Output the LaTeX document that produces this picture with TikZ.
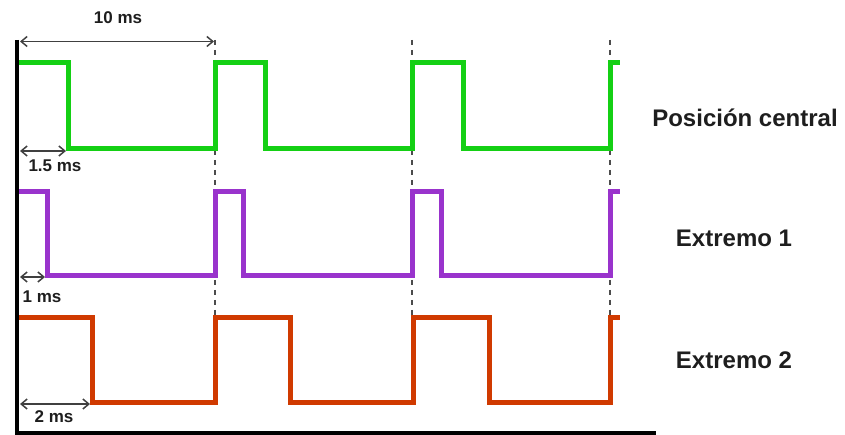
\documentclass[tikz,border=0pt]{standalone}
\usepackage{fontspec}
\setmainfont{Liberation Sans}
\usetikzlibrary{arrows.meta}
\definecolor{wgreen}{RGB}{20,208,20}
\definecolor{wpurple}{RGB}{153,51,204}
\definecolor{wred}{RGB}{208,58,0}
\definecolor{txt}{RGB}{30,30,30}
\tikzset{
  wave/.style={line width=5pt, line join=miter, line cap=butt},
  guide/.style={draw=black!70, line width=1.5pt, dash pattern=on 5pt off 5pt},
  dim/.style={draw=black!75, line width=1.5pt, {Straight Barb[length=6pt,width=10pt]}-{Straight Barb[length=6pt,width=10pt]}},
  small/.style={font=\fontsize{17}{17}\selectfont\bfseries, text=txt, inner sep=0pt},
  big/.style={font=\fontsize{24}{24}\selectfont\bfseries, text=txt, inner sep=0pt},
}
\begin{document}
\begin{tikzpicture}[x=1pt,y=-1pt]
\useasboundingbox (0,0) rectangle (845,435);
% guides
\foreach \gx in {215,412,610} \draw[guide] (\gx,40) -- (\gx,317);
% waveforms
\draw[wave, wgreen] (18,63) -- (68,63) -- (68,149) -- (215,149) -- (215,63) -- (265,63) -- (265,149) -- (412,149) -- (412,63) -- (463,63) -- (463,149) -- (610,149) -- (610,63) -- (620,63);
\draw[wave, wpurple] (18,192) -- (47,192) -- (47,276) -- (215,276) -- (215,192) -- (243,192) -- (243,276) -- (412,276) -- (412,192) -- (441,192) -- (441,276) -- (610,276) -- (610,192) -- (620,192);
\draw[wave, wred] (18,317) -- (92,317) -- (92,402) -- (215,402) -- (215,317) -- (290,317) -- (290,402) -- (413,402) -- (413,317) -- (489,317) -- (489,402) -- (610,402) -- (610,317) -- (620,317);
% axes
\coordinate (top) at (17,40);
\coordinate (origin) at (17,432.5);
\coordinate (xend) at (656,432.5);
\draw[line width=4pt, black, line join=miter] (top) -- (origin) -- (xend);
% dimension arrows
\coordinate (p0) at (20,41.5); \coordinate (p1) at (214,41.5);
\draw[dim] (p0) -- (p1);
\node[small] (l10) at (118,18) {10 ms};
\coordinate (a0) at (20,151); \coordinate (a1) at (66,151);
\draw[dim] (a0) -- (a1);
\node[small] (l15) at (55,166) {1.5 ms};
\coordinate (b0) at (20,277); \coordinate (b1) at (45,277);
\draw[dim] (b0) -- (b1);
\node[small] (l1) at (42,297) {1 ms};
\coordinate (c0) at (20,404); \coordinate (c1) at (90,404);
\draw[dim] (c0) -- (c1);
\node[small] (l2) at (54,417) {2 ms};
% labels
\node[big] (pc) at (745,118) {Posición central};
\node[big] (e1) at (734,238) {Extremo 1};
\node[big] (e2) at (734,360) {Extremo 2};
\end{tikzpicture}
\end{document}
